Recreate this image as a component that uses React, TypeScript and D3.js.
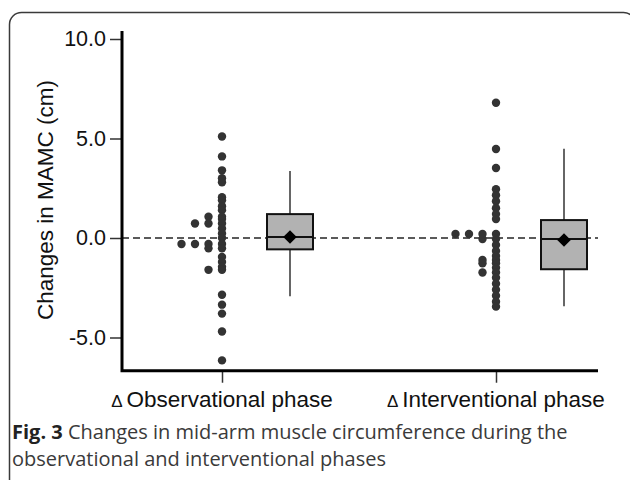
import { useEffect, useRef } from 'react';
import * as d3 from 'd3';

// ─── Data ────────────────────────────────────────────────────────────────────
const phases = ['Observational phase', 'Interventional phase'];

const observationalDeltas = [
  5.1, 4.1, 3.4, 3.0, 2.8, 2.05, 1.9, 1.6, 1.4, 1.07, 1.07, 0.95, 0.73, 0.73,
  0.73, 0.48, 0.23, 0.0, -0.3, -0.3, -0.3, -0.3, -0.52, -0.52, -0.95, -1.2,
  -1.45, -1.6, -1.6, -2.85, -3.35, -3.8, -4.7, -6.15,
];
const interventionalDeltas = [
  6.8, 4.47, 3.52, 2.45, 2.15, 1.85, 1.5, 1.2, 0.95, 0.2, 0.2, 0.2, 0.2, -0.05,
  -0.05, -0.35, -0.65, -0.9, -1.1, -1.1, -1.27, -1.27, -1.5, -1.73, -1.73,
  -2.0, -2.3, -2.6, -2.9, -3.2, -3.45,
];

// box plot stats per phase
const whiskerLow = [-2.93, -3.43];
const quartile1 = [-0.57, -1.57];
const medians = [0.05, -0.05];
const quartile3 = [1.2, 0.9];
const whiskerHigh = [3.37, 4.48];
const means = [0.05, -0.1];

const yTicks = [-5, 0, 5, 10];
const yLabel = 'Changes in MAMC (cm)';
const captionBold = 'Fig. 3';
const captionLine1 = ' Changes in mid-arm muscle circumference during the';
const captionLine2 = 'observational and interventional phases';

// dots with (almost) equal values are stacked side by side, to the left
function swarm(values: number[]) {
  const placed: number[] = [];
  return [...values].sort((a, b) => b - a).map(v => {
    const col = placed.filter(p => Math.abs(p - v) < 0.06).length;
    placed.push(v);
    return { v, col };
  });
}

export default function App() {
  const svgRef = useRef<SVGSVGElement>(null);

  useEffect(() => {
    if (!svgRef.current) return;
    const W = 630;
    const H = 480;
    const chartFont = "'Liberation Sans', Arial, sans-serif";

    const svg = d3.select(svgRef.current);
    svg.selectAll('*').remove();
    svg.attr('width', W).attr('height', H);

    // ── Frame ────────────────────────────────────────────────────────────────
    svg.append('rect')
      .attr('x', 9.5).attr('y', 12.5)
      .attr('width', 626).attr('height', 520)
      .attr('rx', 12)
      .attr('fill', '#fff')
      .attr('stroke', '#3a3a3a')
      .attr('stroke-width', 1.5);

    // ── Scales ───────────────────────────────────────────────────────────────
    const y = d3.scaleLinear().domain([-5, 10]).range([337.5, 39]);
    const x = d3.scalePoint<string>().domain(phases).range([222, 496]);
    const axisX = 122;
    const axisRight = 598;
    const boxOffset = 68;
    const boxW = 46;
    const colGap = 13.5;
    const yBottom = y(-6.67);

    // ── Zero reference line ─────────────────────────────────────────────────
    svg.append('line')
      .attr('x1', axisX).attr('x2', axisRight)
      .attr('y1', y(0)).attr('y2', y(0))
      .attr('stroke', '#5a5a5a')
      .attr('stroke-width', 2)
      .attr('stroke-dasharray', '7 4');

    // ── Y axis ───────────────────────────────────────────────────────────────
    svg.append('g')
      .attr('transform', `translate(${axisX},0)`)
      .call(d3.axisLeft(y).tickValues(yTicks).tickSize(12).tickPadding(4)
        .tickFormat(v => (v as number).toFixed(1)))
      .call(ax => ax.select('.domain').remove())
      .call(ax => ax.selectAll('line').attr('stroke', '#333').attr('stroke-width', 1.5))
      .call(ax => ax.selectAll('text')
        .attr('fill', '#111')
        .attr('font-size', 21.5)
        .attr('font-family', chartFont));

    // ── X axis ───────────────────────────────────────────────────────────────
    svg.append('g')
      .attr('transform', `translate(0,${yBottom})`)
      .call(d3.axisBottom(x).tickSize(12).tickFormat(() => ''))
      .call(ax => ax.select('.domain').remove())
      .call(ax => ax.selectAll('line').attr('stroke', '#333').attr('stroke-width', 1.5));

    // axis lines (thick L)
    svg.append('path')
      .attr('d', `M${axisX},${y(10.4)}V${yBottom}H${axisRight}`)
      .attr('fill', 'none')
      .attr('stroke', '#000')
      .attr('stroke-width', 3);

    const xLabels = svg.append('g')
      .attr('font-family', chartFont)
      .attr('fill', '#111');
    phases.forEach(p => {
      const t = xLabels.append('text')
        .attr('x', x(p)!)
        .attr('y', 407)
        .attr('text-anchor', 'middle');
      t.append('tspan').attr('font-size', 17).text('Δ ');
      t.append('tspan').attr('font-size', 22.5).text(p);
    });

    svg.append('text')
      .attr('transform', 'translate(53,200) rotate(-90)')
      .attr('text-anchor', 'middle')
      .attr('font-family', chartFont)
      .attr('font-size', 22.5)
      .attr('fill', '#111')
      .text(yLabel);

    // ── Box plots ────────────────────────────────────────────────────────────
    phases.forEach((p, i) => {
      const cx = x(p)! + boxOffset;
      const g = svg.append('g');
      g.append('line')
        .attr('x1', cx).attr('x2', cx)
        .attr('y1', y(whiskerHigh[i])).attr('y2', y(quartile3[i]))
        .attr('stroke', '#333').attr('stroke-width', 1.5);
      g.append('line')
        .attr('x1', cx).attr('x2', cx)
        .attr('y1', y(quartile1[i])).attr('y2', y(whiskerLow[i]))
        .attr('stroke', '#333').attr('stroke-width', 1.5);
      g.append('rect')
        .attr('x', cx - boxW / 2)
        .attr('y', y(quartile3[i]))
        .attr('width', boxW)
        .attr('height', y(quartile1[i]) - y(quartile3[i]))
        .attr('fill', '#b2b2b2')
        .attr('stroke', '#111')
        .attr('stroke-width', 2);
      g.append('line')
        .attr('x1', cx - boxW / 2).attr('x2', cx + boxW / 2)
        .attr('y1', y(medians[i])).attr('y2', y(medians[i]))
        .attr('stroke', '#111').attr('stroke-width', 2);
      g.append('path')
        .attr('d', d3.symbol(d3.symbolSquare, 92)())
        .attr('transform', `translate(${cx},${y(means[i])}) rotate(45)`)
        .attr('fill', '#000');
    });

    // ── Dot plots ────────────────────────────────────────────────────────────
    [observationalDeltas, interventionalDeltas].forEach((vals, i) => {
      const cx = x(phases[i])!;
      svg.append('g')
        .selectAll('circle')
        .data(swarm(vals))
        .join('circle')
        .attr('cx', d => cx - d.col * colGap)
        .attr('cy', d => y(d.v))
        .attr('r', 4.2)
        .attr('fill', '#333');
    });

    // ── Caption ──────────────────────────────────────────────────────────────
    const cap = svg.append('g')
      .attr('font-family', "'Open Sans', 'Noto Sans', sans-serif")
      .attr('font-size', 20)
      .attr('fill', '#3a3a3a');
    const l1 = cap.append('text').attr('x', 12).attr('y', 439);
    l1.append('tspan').attr('font-weight', 'bold').attr('fill', '#222').text(captionBold);
    l1.append('tspan').text(captionLine1);
    cap.append('text').attr('x', 12).attr('y', 466).text(captionLine2);
  }, []);

  return (
    <svg
      ref={svgRef}
      style={{ position: 'absolute', left: 0, top: 0, display: 'block' }}
    />
  );
}
